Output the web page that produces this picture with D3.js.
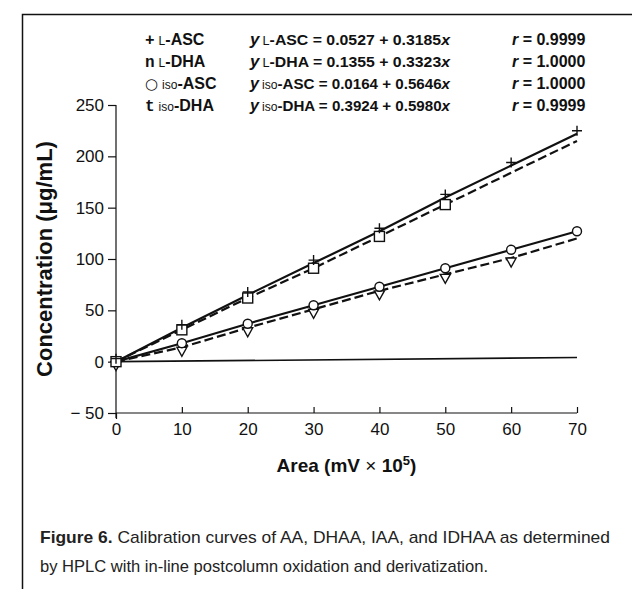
<!DOCTYPE html>
<html>
<head>
<meta charset="utf-8">
<script src="https://cdn.jsdelivr.net/npm/d3@7"></script>
<style>
  body { margin: 0; background: #fff; }
  svg { display: block; }
  .tick text { font-family: "Liberation Sans", Arial, sans-serif; font-size: 17px; fill: #111; }
  .tick line, .domain { stroke: #111; stroke-width: 1.2; }
</style>
</head>
<body>
<script>
// Chart values
var areaX = [0, 10, 20, 30, 40, 50, 60, 70];
var lAsc = [0, 33, 65, 96, 127, 160, 191, 222];
var lDha = [0, 31, 62, 91, 122, 153, 184, 215];
var isoAsc = [0, 18, 37, 55, 73, 91, 109, 127];
var isoDha = [0, 14, 33, 51, 69, 85, 101, 120];
var lDhaMarked = 6;   // markers visible for first n points
var isoDhaMarked = 7;
var baseX = [0, 70];
var baseY = [0, 4];
var xTicks = [0, 10, 20, 30, 40, 50, 60, 70];
var yTicks = [-50, 0, 50, 100, 150, 200, 250];

var legendSym = ['+', 'n', '\u25CB', 't'];
var legendPre = ['L', 'L', 'iso', 'iso'];
var legendName = ['-ASC', '-DHA', '-ASC', '-DHA'];
var legendEq = ['0.0527 + 0.3185', '0.1355 + 0.3323', '0.0164 + 0.5646', '0.3924 + 0.5980'];
var legendR = ['0.9999', '1.0000', '1.0000', '0.9999'];

// Graph dimensions
var W = 632, H = 589;
var margin = {top: 105, right: 55, bottom: 176, left: 116},
    width = W - margin.left - margin.right,
    height = H - margin.top - margin.bottom;

var x = d3.scaleLinear().domain([0, 70]).range([0, width]);
var y = d3.scaleLinear().domain([-50, 250]).range([height, 0]);

var svg = d3.select('body').append('svg')
    .attr('width', W)
    .attr('height', H);

// frame
svg.append('path')
    .attr('d', 'M22.5,' + H + 'V14.5H' + W)
    .attr('fill', 'none')
    .attr('stroke', '#111')
    .attr('stroke-width', 1.5);

var chart = svg.append('g')
    .attr('transform', 'translate(' + margin.left + ',' + margin.top + ')');

// Axes
var xAxis = d3.axisBottom(x).tickValues(xTicks).tickSize(-6).tickPadding(10).tickFormat(d3.format('d'));
var yAxis = d3.axisLeft(y).tickValues(yTicks).tickSize(8).tickPadding(4)
    .tickFormat(function(d) { return d < 0 ? '\u2212 ' + Math.abs(d) : d; });

var gx = chart.append('g')
    .attr('transform', 'translate(0,' + height + ')')
    .call(xAxis);
gx.select('.domain').attr('d', 'M0,0H' + width);
gx.select('.tick line').attr('y2', 6); // zero tick points down

var gy = chart.append('g').call(yAxis);
gy.select('.domain').attr('d', 'M0,0V' + (height + 5));

// Lines
var line = d3.line()
    .x(function(d) { return x(d[0]); })
    .y(function(d) { return y(d[1]); });

function pairs(xs, ys) { return xs.map(function(v, i) { return [v, ys[i]]; }); }

chart.append('path')
    .attr('d', line(pairs(baseX, baseY)))
    .attr('fill', 'none').attr('stroke', '#111').attr('stroke-width', 1.6);

var series = [
  {vals: lAsc, dash: null, n: areaX.length, mark: 'plus'},
  {vals: lDha, dash: '9,4', n: lDhaMarked, mark: 'square'},
  {vals: isoAsc, dash: null, n: areaX.length, mark: 'circle'},
  {vals: isoDha, dash: '9,4', n: isoDhaMarked, mark: 'tri'}
];

series.forEach(function(s) {
  chart.append('path')
    .attr('d', line(pairs(areaX, s.vals)))
    .attr('fill', 'none')
    .attr('stroke', '#111')
    .attr('stroke-width', 2.2)
    .attr('stroke-dasharray', s.dash);
});

// Markers
series.slice().reverse().forEach(function(s) {
  var pts = pairs(areaX, s.vals).slice(0, s.n);
  var g = chart.append('g').attr('fill', '#fff').attr('stroke', '#111').attr('stroke-width', 1.4);
  pts.forEach(function(p) {
    var cx = x(p[0]), cy = y(p[1]);
    if (s.mark === 'plus') {
      g.append('path').attr('d', 'M' + (cx - 5) + ',' + (cy - 3) + 'H' + (cx + 5) + 'M' + cx + ',' + (cy - 8) + 'V' + (cy + 2));
    } else if (s.mark === 'square') {
      g.append('rect').attr('x', cx - 5).attr('y', cy - 5).attr('width', 10).attr('height', 10);
    } else if (s.mark === 'circle') {
      g.append('circle').attr('cx', cx).attr('cy', cy).attr('r', 4.5);
    } else {
      g.append('path').attr('d', 'M' + (cx - 5) + ',' + (cy) + 'L' + (cx + 5) + ',' + cy + 'L' + cx + ',' + (cy + 9) + 'Z');
    }
  });
});

// Legend
var legFont = '"Liberation Sans", Arial, sans-serif';
var leg = svg.append('g').attr('font-family', legFont).attr('font-weight', 'bold').attr('font-size', 16).attr('fill', '#111');
legendSym.forEach(function(sym, i) {
  var by = 45 + i * 22;
  var t = leg.append('text').attr('x', 145).attr('y', by);
  t.append('tspan').attr('font-family', i === 2 ? '"DejaVu Sans", sans-serif' : '"Liberation Mono", monospace')
    .attr('font-size', i === 2 ? 15 : 16)
    .attr('font-weight', i === 2 ? 'normal' : 'bold').text(sym);
  t.append('tspan').attr('dx', 4).attr('font-size', 12).attr('font-weight', 'normal').text(legendPre[i]);
  t.append('tspan').text(legendName[i]);

  var e = leg.append('text').attr('x', 250).attr('y', by).attr('font-size', 15)
      .attr('textLength', 200).attr('lengthAdjust', 'spacingAndGlyphs');
  e.append('tspan').attr('font-style', 'italic').attr('font-size', 16).text('y');
  e.append('tspan').attr('dx', 3).attr('font-size', 12).attr('font-weight', 'normal').text(legendPre[i]);
  e.append('tspan').text(legendName[i] + ' = ' + legendEq[i]);
  e.append('tspan').attr('font-style', 'italic').text('x');

  var r = leg.append('text').attr('x', 512).attr('y', by);
  r.append('tspan').attr('font-style', 'italic').text('r');
  r.append('tspan').text(' = ' + legendR[i]);
});

// Axis titles
svg.append('text')
    .attr('transform', 'translate(52,' + (margin.top + y(100)) + ') rotate(-90)')
    .attr('text-anchor', 'middle')
    .attr('font-family', '"Liberation Sans", Arial, sans-serif')
    .attr('font-weight', 'bold').attr('font-size', 22).attr('fill', '#111')
    .text('Concentration (\u03BCg/mL)');

var xt = svg.append('text')
    .attr('x', margin.left + width / 2).attr('y', 472)
    .attr('text-anchor', 'middle')
    .attr('font-family', '"Liberation Sans", Arial, sans-serif')
    .attr('font-weight', 'bold').attr('font-size', 19).attr('fill', '#111');
xt.append('tspan').text('Area (mV ');
xt.append('tspan').attr('font-weight', 'normal').text('\u00D7');
xt.append('tspan').text(' 10');
xt.append('tspan').attr('dy', -7).attr('font-size', 13).text('5');
xt.append('tspan').attr('dy', 7).text(')');

// Caption
var capFont = '"Liberation Sans", Arial, sans-serif';
var c1 = svg.append('text').attr('x', 40).attr('y', 543)
    .attr('font-family', capFont).attr('font-size', 17).attr('fill', '#222')
    .attr('textLength', 570).attr('lengthAdjust', 'spacingAndGlyphs');
c1.append('tspan').attr('font-weight', 'bold').text('Figure 6.');
c1.append('tspan').text(' Calibration curves of AA, DHAA, IAA, and IDHAA as determined');
svg.append('text').attr('x', 40).attr('y', 572)
    .attr('font-family', capFont).attr('font-size', 17).attr('fill', '#222')
    .attr('textLength', 448).attr('lengthAdjust', 'spacingAndGlyphs')
    .text('by HPLC with in-line postcolumn oxidation and derivatization.');
</script>
</body>
</html>
